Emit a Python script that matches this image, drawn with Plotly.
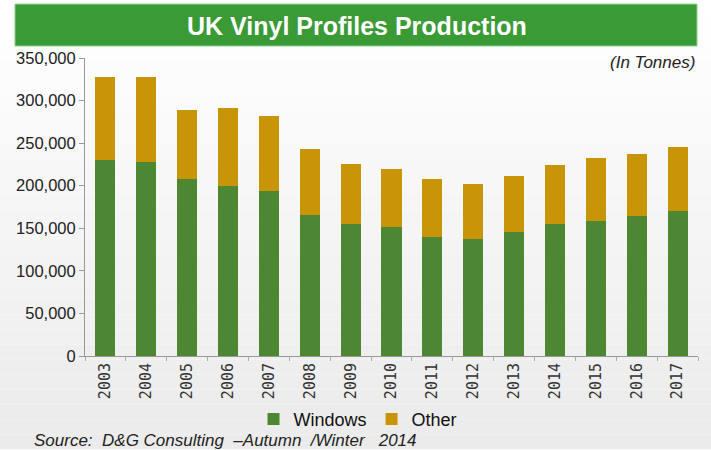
import plotly.graph_objects as go

years = [str(y) for y in range(2003, 2018)]
windows = [230000, 228000, 208000, 200000, 194000, 166000, 155000, 152000, 140000, 138000, 146000, 155000, 159000, 164000, 170000]
other = [98000, 100000, 81000, 91000, 88000, 77000, 71000, 68000, 68000, 64000, 66000, 69000, 73000, 73000, 76000]
y_ticks = [0, 50000, 100000, 150000, 200000, 250000, 300000, 350000]
y_tick_text = ["0", "50,000", "100,000", "150,000", "200,000", "250,000", "300,000", "350,000"]

W, H = 711, 450
L, R, T, B = 85, 13, 58, 93.5
PW, PH = W - L - R, H - T - B


def px(x):
    return (x - L) / PW


def py(y):
    return (H - B - y) / PH


fig = go.Figure()
fig.add_trace(go.Bar(x=years, y=windows, name="Windows", marker=dict(color="#4d8732", line=dict(width=0))))
fig.add_trace(go.Bar(x=years, y=other, name="Other", marker=dict(color="#c99508", line=dict(width=0))))

shapes = []
# background gradient bands
n = 30
for i in range(n):
    y0 = H * i / n
    y1 = H * (i + 1) / n
    t = i / (n - 1)
    c = int(round(255 - 20 * t))
    shapes.append(dict(type="rect", xref="paper", yref="paper", x0=px(0), x1=px(W),
                       y0=py(y1), y1=py(y0), fillcolor=f"rgb({c},{c},{c})",
                       line=dict(width=0), layer="below"))
# title banner
shapes.append(dict(type="rect", xref="paper", yref="paper", x0=px(15), x1=px(697),
                   y0=py(46), y1=py(4), fillcolor="#3a9a35",
                   line=dict(width=1, color="#8fd48a"), layer="above"))

nb = "\u00a0"
src = f"<i>Source:{nb}{nb}D&amp;G Consulting{nb}{nb}–Autumn{nb}{nb}/Winter{nb}{nb}{nb}2014</i>"

annotations = [
    dict(text="<b>UK Vinyl Profiles Production</b>", xref="paper", yref="paper",
         x=px(357), y=py(26), xanchor="center", yanchor="middle", showarrow=False,
         font=dict(family="Liberation Sans, Arial", size=25, color="white")),
    dict(text="<i>(In Tonnes)</i>", xref="paper", yref="paper", x=px(697), y=py(63),
         xanchor="right", yanchor="middle", showarrow=False,
         font=dict(family="Liberation Sans, Arial", size=17, color="#222")),
    dict(text=src, xref="paper", yref="paper",
         x=px(32), y=py(441), xanchor="left", yanchor="middle", showarrow=False,
         font=dict(family="Liberation Sans, Arial", size=17, color="#222")),
]

fig.update_layout(
    barmode="stack",
    bargap=0.51,
    width=W, height=H,
    margin=dict(l=L, r=R, t=T, b=B, pad=0),
    paper_bgcolor="white",
    plot_bgcolor="rgba(0,0,0,0)",
    shapes=shapes,
    annotations=annotations,
    showlegend=True,
    legend=dict(orientation="h", x=px(358), y=py(420), xanchor="center", yanchor="middle",
                traceorder="normal",
                font=dict(family="Liberation Sans, Arial", size=18, color="#111"),
                bgcolor="rgba(0,0,0,0)", itemwidth=30, tracegroupgap=0,
                borderwidth=0),
    xaxis=dict(type="category", tickangle=-90, showline=True, linecolor="#999", linewidth=1,
               ticks="outside", tickson="boundaries", ticklen=4, tickcolor="#aaa",
               tickfont=dict(family="DejaVu Sans Mono", size=15, color="#333"),
               showgrid=False, zeroline=False),
    yaxis=dict(range=[0, 350000], tickvals=y_ticks, ticktext=y_tick_text, showline=True,
               linecolor="#999", linewidth=1, ticks="outside", ticklen=5, tickcolor="#999",
               tickfont=dict(family="Liberation Sans, Arial", size=16.5, color="#222"),
               showgrid=False, zeroline=False),
)

fig.write_html("out.html", config={"displayModeBar": False})
